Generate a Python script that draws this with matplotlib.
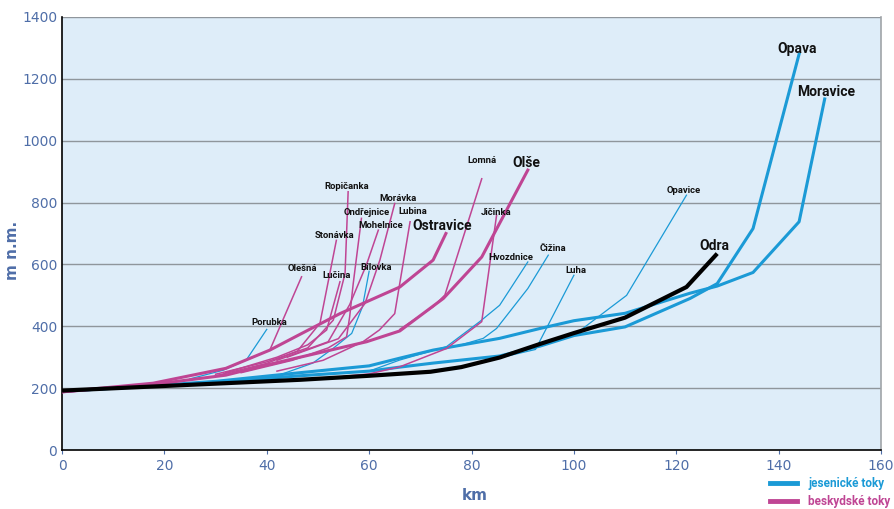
import matplotlib
matplotlib.use("Agg")
import matplotlib.pyplot as plt
from matplotlib.lines import Line2D

# ---- long profiles of the rivers: distance [km] and elevation [m n.m.] ----
odra_km = [0, 20, 46.5, 60, 72, 78, 85.5, 93.4, 100, 110, 122, 128]
odra_m = [192, 207, 227, 240, 253, 268, 299, 343, 378, 428, 527, 635]

opava_km = [0, 17, 30, 46.5, 60, 66, 72.5, 85.5, 93.4, 100, 110, 122.7, 128, 135, 144]
opava_m = [190, 206, 218, 240, 255, 268, 281, 304, 336, 370, 398, 490, 538, 716, 1280]

moravice_km = [0, 17, 30, 46.5, 60, 66, 72.5, 85.5, 93.4, 100, 110, 122.7, 128, 135, 144, 149]
moravice_m = [190, 207, 222, 250, 272, 297, 323, 361, 393, 418, 442, 507, 530, 574, 738, 1135]

porubka_km = [25, 31.5, 36, 40]
porubka_m = [230, 258, 291, 390]
bilovka_km = [40, 49, 53, 56.6, 58.7, 60]
bilovka_m = [228, 281, 329, 377, 463, 578]
hvozdnice_km = [60, 66, 75.1, 81.6, 85.5, 91]
hvozdnice_m = [255, 291, 334, 415, 468, 608]
cizina_km = [72.5, 78, 82.3, 84.9, 91, 95]
cizina_m = [323, 340, 361, 393, 522, 630]
luha_km = [86, 92.5, 100]
luha_m = [300, 325, 565]
opavice_km = [85.5, 93.4, 100, 110.3, 122]
opavice_m = [300, 339, 371, 500, 824]

olse_km = [0, 17.8, 32, 40, 46.5, 59.5, 66, 74.5, 82, 91]
olse_m = [188, 212, 242, 275, 300, 350, 385, 490, 624, 905]
ostravice_km = [0, 17.8, 32, 40.6, 46.5, 54.3, 66, 72.5, 75]
ostravice_m = [188, 216, 264, 323, 374, 441, 527, 614, 700]

olesna_km = [40.6, 46.8]
olesna_m = [323, 560]
stonavka_km = [30, 40, 46, 50.4, 53.6]
stonavka_m = [240, 280, 320, 410, 678]
lucina_km = [32, 42, 48, 51.7, 54.3]
lucina_m = [250, 300, 340, 388, 544]
ropicanka_km = [30, 40, 48, 53, 55.3, 55.9]
ropicanka_m = [245, 285, 330, 420, 571, 835]
ondrejnice_km = [35, 45, 52, 55.6, 56.2, 56.9, 58.5]
ondrejnice_m = [250, 290, 330, 366, 431, 539, 749]
mohelnice_km = [42, 52, 56.2, 59.5, 61.8]
mohelnice_m = [290, 350, 470, 600, 711]
moravka_km = [44, 54, 59.2, 62.1, 65]
moravka_m = [300, 360, 474, 614, 797]
lubina_km = [42, 51, 58.8, 62, 65, 68]
lubina_m = [255, 290, 350, 388, 441, 738]
jicinka_km = [55, 60, 66, 75.1, 82, 84.9]
jicinka_m = [238, 246, 269, 328, 415, 759]
lomna_km = [66, 72.5, 74.8, 82]
lomna_m = [390, 463, 501, 877]

# label text, position (km, m)
label_names = ["Porubka", "Olešná", "Lučina", "Bílovka", "Stonávka", "Mohelnice",
               "Ondřejnice", "Ropičanka", "Morávka", "Lubina", "Lomná", "Jičinka",
               "Hvozdnice", "Čižina", "Luha", "Opavice",
               "Ostravice", "Olše", "Odra", "Opava", "Moravice"]
label_km = [40.4, 46.9, 53.7, 61.3, 53.3, 62.3, 59.6, 55.7, 65.6, 68.6, 82.0, 84.8,
            87.7, 95.9, 100.4, 121.5, 74.2, 90.8, 127.5, 143.6, 149.2]
label_m = [413, 587, 565, 591, 694, 727, 769, 853, 814, 772, 937, 769,
           623, 652, 581, 840, 724, 927, 659, 1298, 1156]

x_ticks = [0, 20, 40, 60, 80, 100, 120, 140, 160]
y_ticks = [0, 200, 400, 600, 800, 1000, 1200, 1400]

BLUE = "#1b9ad6"
MAGENTA = "#bf4594"
TICK_COL = "#4f6ea8"
BG = "#deedf9"
FAM = ["Roboto", "DejaVu Sans"]

fig = plt.figure(figsize=(8.94, 5.09), dpi=100)
ax = fig.add_axes([62 / 894, 1 - 450 / 509, (881 - 62) / 894, (450 - 17) / 509])
ax.set_facecolor(BG)

for y in y_ticks[1:]:
    ax.axhline(y, color="#8f969c", lw=1.0, zorder=1)

thin = 0.9
thick = 2.2
# jesenické toky
for xs, ys in [(porubka_km, porubka_m), (bilovka_km, bilovka_m),
               (hvozdnice_km, hvozdnice_m), (cizina_km, cizina_m),
               (luha_km, luha_m), (opavice_km, opavice_m)]:
    ax.plot(xs, ys, color=BLUE, lw=thin, zorder=3)
for xs, ys in [(opava_km, opava_m), (moravice_km, moravice_m)]:
    ax.plot(xs, ys, color=BLUE, lw=thick, zorder=3)

# beskydské toky
for xs, ys in [(olesna_km, olesna_m), (stonavka_km, stonavka_m), (lucina_km, lucina_m),
               (ropicanka_km, ropicanka_m), (ondrejnice_km, ondrejnice_m),
               (mohelnice_km, mohelnice_m), (moravka_km, moravka_m),
               (lubina_km, lubina_m), (jicinka_km, jicinka_m), (lomna_km, lomna_m)]:
    ax.plot(xs, ys, color=MAGENTA, lw=thin + 0.2, zorder=4)
for xs, ys in [(olse_km, olse_m), (ostravice_km, ostravice_m)]:
    ax.plot(xs, ys, color=MAGENTA, lw=thick, zorder=4)

# main river
ax.plot(odra_km, odra_m, color="black", lw=3.0, zorder=5, solid_capstyle="butt")

big = {"Ostravice", "Olše", "Odra", "Opava", "Moravice"}
for name, x, y in zip(label_names, label_km, label_m):
    ax.text(x, y, name, ha="center", va="center", fontweight="bold", family=FAM,
            fontsize=10 if name in big else 6.8, color="#111111", zorder=6)

ax.set_xlim(0, 160)
ax.set_ylim(0, 1400)
ax.set_xticks(x_ticks)
ax.set_yticks(y_ticks)
ax.tick_params(axis="both", colors=TICK_COL, labelsize=10, length=3, width=0.8)
ax.tick_params(axis="y", length=0)
for lab in ax.get_xticklabels() + ax.get_yticklabels():
    lab.set_color(TICK_COL)

ax.spines["top"].set_visible(False)
ax.spines["right"].set_color("#a0a4a8")
ax.spines["right"].set_linewidth(1.2)
for side in ("left", "bottom"):
    ax.spines[side].set_color("black")
    ax.spines[side].set_linewidth(1.2)

ax.set_xlabel("km", fontsize=11, fontweight="bold", color=TICK_COL)
ax.xaxis.set_label_coords((475 - 62) / (881 - 62), -(488 - 450) / (450 - 17))
ax.set_ylabel("m n.m.", fontsize=11, fontweight="bold", color=TICK_COL)
ax.yaxis.set_label_coords(-(62 - 20) / (881 - 62), (450 - 250) / (450 - 17))

handles = [Line2D([], [], color=BLUE, lw=3.5), Line2D([], [], color=MAGENTA, lw=3.5)]
fig.legend(handles, ["jesenické toky", "beskydské toky"], loc="upper left",
           bbox_to_anchor=(762 / 894, 1 - 469 / 509), frameon=False,
           labelcolor=[BLUE, MAGENTA], handlelength=2.3, handletextpad=0.9,
           labelspacing=0.4, borderpad=0.2,
           prop={"family": FAM, "weight": "bold", "size": 8.5})

fig.savefig("out.png", dpi=100, facecolor="white")
